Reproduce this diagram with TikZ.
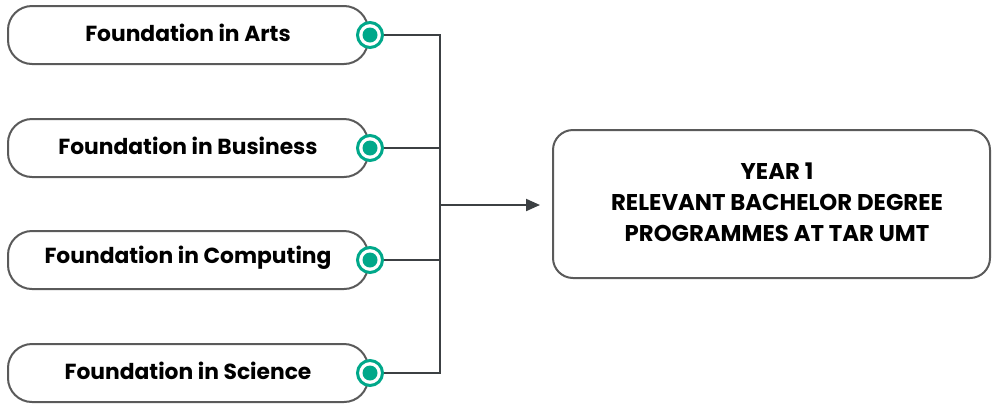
\documentclass[tikz,border=0pt]{standalone}
\usepackage{fontspec}
\setmainfont{Poppins}[BoldFont={* Bold}]
\usetikzlibrary{arrows.meta}
\definecolor{teal}{HTML}{00A88A}
\definecolor{boxgray}{HTML}{5A5A5A}
\definecolor{linegray}{HTML}{3C4043}
\begin{document}
\begin{tikzpicture}[x=1pt,y=-1pt,
  leftbox/.style={draw=boxgray,line width=2pt,rounded corners=24pt,minimum width=360pt,minimum height=58pt,inner sep=0pt,font=\fontsize{21.8}{24}\selectfont\bfseries},
  lbl/.style={inner sep=0pt,font=\fontsize{21.8}{24}\selectfont\bfseries},
  bigbox/.style={draw=boxgray,line width=2pt,rounded corners=20pt,minimum width=437pt,minimum height=148pt},
  bigtext/.style={inner sep=0pt,align=center,font=\fontsize{22.8}{31}\selectfont\bfseries},
  port/.style={circle,draw=teal,line width=3pt,fill=white,minimum size=25pt,inner sep=0pt},
  dot/.style={circle,fill=teal,minimum size=15pt,inner sep=0pt},
  conn/.style={draw=linegray,line width=2pt}]
\useasboundingbox (0,0) rectangle (992,405);
\node[leftbox] (a) at (188,35) {};
\node[leftbox] (b) at (188,148) {};
\node[leftbox] (c) at (188,260) {};
\node[leftbox] (d) at (188,373) {};
\node[lbl] (ta) at (188,33) {Foundation in Arts};
\node[lbl] (tb) at (188,146) {Foundation in Business};
\node[lbl] (tc) at (188,258) {Foundation in Computing};
\node[lbl] (td) at (188,371) {Foundation in Science};
\node[bigbox] (y) at (771.5,204) {};
\node[bigtext] (yt) at (777,202) {YEAR 1\\RELEVANT BACHELOR DEGREE\\PROGRAMMES AT TAR UMT};
\foreach \n/\yy in {pa/35,pb/148,pc/260,pd/373}{
  \node[port] (\n) at (370,\yy) {};
  \node[dot] at (\n) {};
}
\coordinate (top) at (440,35);
\coordinate (bot) at (440,373);
\coordinate (mid) at (440,205);
\draw[conn] (pa.east) -- (top) -- (bot) -- (pd.east);
\draw[conn] (pb.east) -- (pb.east -| top);
\draw[conn] (pc.east) -- (pc.east -| top);
\draw[conn,-{Triangle[length=14pt,width=12pt]}] (mid) -- (540,205);
\end{tikzpicture}
\end{document}
